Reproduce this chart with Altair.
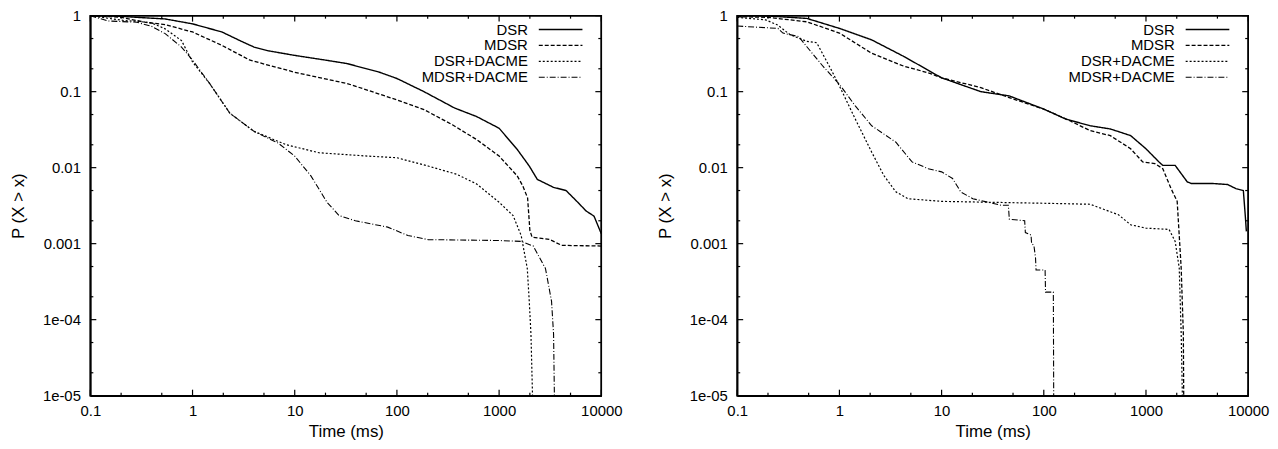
import math
import altair as alt
import pandas as pd

series = ["DSR", "MDSR", "DSR+DACME", "MDSR+DACME"]
dash_styles = [[1, 0], [4, 2], [2, 2], [6, 2, 1, 2]]
line_widths = [1.4, 1.1, 1.1, 1.1]

x_major = [0.1, 1, 10, 100, 1000, 10000]
x_labels = ["0.1", "1", "10", "100", "1000", "10000"]
x_minor = [0.2, 0.5, 2, 5, 20, 50, 200, 500, 2000, 5000]
y_major = [1e-5, 1e-4, 1e-3, 1e-2, 1e-1, 1]
y_labels = ["1e-05", "1e-04", "0.001", "0.01", "0.1", "1"]
y_minor = [2e-5, 5e-5, 2e-4, 5e-4, 2e-3, 5e-3, 2e-2, 5e-2, 0.2, 0.5]

x_title = "Time (ms)"
y_title = "P (X > x)"

# ---------------- left panel ----------------
L_dsr_x = [0.1, 0.2, 0.285, 0.54, 1, 1.94, 3.0, 4.0, 5.5, 10, 20, 32.6, 67.6, 100, 184, 366,
           603, 1000, 1503, 1973, 2366, 3412, 4520, 5890, 7080, 8490, 10000]
L_dsr_y = [1.0, 0.98, 0.95, 0.905, 0.78, 0.61, 0.46, 0.386, 0.345, 0.30, 0.26, 0.234, 0.18,
           0.149, 0.10, 0.061, 0.047, 0.033, 0.0174, 0.0105, 0.0070, 0.0055, 0.0050, 0.0035,
           0.0027, 0.0023, 0.00135]
L_mdsr_x = [0.1, 0.2, 0.342, 0.54, 1, 1.94, 3.66, 10, 32.6, 100, 184, 349, 603, 1000, 1503,
            1700, 1900, 2000, 2100, 3100, 4090, 10000]
L_mdsr_y = [1.0, 0.95, 0.82, 0.76, 0.61, 0.406, 0.259, 0.18, 0.128, 0.078, 0.058, 0.0367,
            0.0234, 0.0142, 0.0078, 0.0058, 0.004, 0.0015, 0.00122, 0.00114, 0.00095, 0.00093]
L_dd_x = [0.1, 0.217, 0.3, 0.4, 0.54, 0.78, 1, 1.47, 2.32, 4.0, 8.3, 17.3, 51.5, 100, 202,
          383, 603, 1000, 1371, 1644, 1887, 1973, 2050, 2123]
L_dd_y = [1.0, 0.86, 0.84, 0.80, 0.67, 0.47, 0.246, 0.128, 0.052, 0.030, 0.020, 0.0157,
          0.0142, 0.0135, 0.0105, 0.0082, 0.0061, 0.0035, 0.00234, 0.00128, 0.00047,
          0.000174, 0.000064, 0.00001]
L_md_x = [0.1, 0.15, 0.285, 0.4, 0.54, 0.78, 1, 1.47, 2.32, 4.0, 6.9, 10, 14.4, 20.7, 27.2,
          39.2, 81.3, 128, 202, 1000, 1644, 2160, 2844, 3260, 3412, 3475]
L_md_y = [1.0, 0.85, 0.82, 0.72, 0.58, 0.386, 0.26, 0.128, 0.052, 0.030, 0.021, 0.0142,
          0.0078, 0.0035, 0.00234, 0.0020, 0.00165, 0.00128, 0.00113, 0.00110, 0.00107,
          0.00093, 0.00047, 0.000174, 0.000064, 0.00001]

# ---------------- right panel ----------------
R_dsr_x = [0.1, 0.2, 0.48, 1, 2.07, 4.28, 10, 24.2, 45.8, 100, 164, 284, 448, 708, 1000,
           1340, 1460, 1930, 2535, 2770, 4380, 6300, 7570, 8970, 9400, 9600]
R_dsr_y = [1.0, 0.99, 0.92, 0.68, 0.48, 0.29, 0.152, 0.10, 0.088, 0.059, 0.0436, 0.0356,
           0.0323, 0.0264, 0.0177, 0.0119, 0.0107, 0.0107, 0.0065, 0.0062, 0.0062, 0.0060,
           0.0053, 0.0050, 0.0022, 0.00145]
R_mdsr_x = [0.1, 0.2, 0.48, 1, 2.07, 4.28, 7.4, 10, 24.2, 45.8, 100, 180, 284, 448, 708, 929,
            1222, 1460, 1760, 2020, 2210, 2320, 2340]
R_mdsr_y = [0.97, 0.95, 0.83, 0.59, 0.32, 0.216, 0.177, 0.152, 0.113, 0.0835, 0.059, 0.0414,
            0.0307, 0.0264, 0.0177, 0.0119, 0.0113, 0.0097, 0.0053, 0.0036, 0.00048,
            0.000066, 0.00001]
R_dd_x = [0.1, 0.19, 0.25, 0.33, 0.48, 0.60, 0.83, 1, 1.43, 2.07, 2.72, 3.57, 4.69, 10, 100,
          284, 538, 708, 1000, 1683, 1930, 2115, 2210, 2270]
R_dd_y = [0.95, 0.88, 0.75, 0.56, 0.46, 0.44, 0.195, 0.119, 0.0436, 0.016, 0.0079, 0.0048,
          0.0039, 0.0036, 0.0034, 0.0033, 0.0024, 0.00177, 0.0016, 0.00154, 0.00107,
          0.00048, 0.000066, 0.00001]
R_md_x = [0.1, 0.25, 0.28, 0.4, 0.48, 0.69, 1, 1.43, 2.07, 3.57, 5.14, 7.4, 10, 12.8, 15.4,
          20.2, 38.2, 45, 46, 65, 66, 75, 76, 80, 83, 84, 103, 104, 124, 125]
R_md_y = [0.73, 0.68, 0.59, 0.53, 0.39, 0.216, 0.125, 0.065, 0.0356, 0.0216, 0.0119, 0.0097,
          0.0088, 0.0072, 0.0048, 0.0039, 0.0032, 0.0032, 0.0021, 0.0020, 0.0014, 0.0013,
          0.0010, 0.00095, 0.00065, 0.00045, 0.00045, 0.00023, 0.00023, 0.00001]

W, H = 515, 383
FONT = "Liberation Sans"


def label_expr(vals, labs):
    parts = []
    for v, nxt, lab in zip(vals[:-1], vals[1:], labs[:-1]):
        parts.append(f"datum.value < {math.sqrt(v * nxt)!r} ? '{lab}' : ")
    return "".join(parts) + f"'{labs[-1]}'"


xscale = alt.Scale(type="log", domain=[0.1, 10000])
yscale = alt.Scale(type="log", domain=[1e-5, 1])
dash_scale = alt.Scale(domain=series, range=dash_styles)
width_scale = alt.Scale(domain=series, range=line_widths)
x_axis = alt.Axis(values=x_major, labelExpr=label_expr(x_major, x_labels),
                  domain=True, domainColor="black", domainWidth=1.5)
y_axis = alt.Axis(values=y_major, labelExpr=label_expr(y_major, y_labels),
                  domain=True, domainColor="black", domainWidth=1.5)


def X():
    return alt.X("x:Q", scale=xscale, title=x_title, axis=x_axis)


def Y():
    return alt.Y("y:Q", scale=yscale, title=y_title, axis=y_axis)


def lines_df(pairs):
    rows = []
    for name, (xs, ys) in zip(series, pairs):
        for i, (xv, yv) in enumerate(zip(xs, ys)):
            rows.append({"series": name, "i": i, "x": xv, "y": yv})
    return pd.DataFrame(rows)


def tick_layers():
    layers = []
    for vals, size in ((x_major, 6), (x_minor, 3)):
        d = pd.DataFrame({"x": vals})
        for y0, y1 in ((H, H - size), (0, size)):
            layers.append(alt.Chart(d).mark_rule(color="black", strokeWidth=1.2).encode(
                x=X(), y=alt.value(y0), y2=alt.value(y1)))
    for vals, size in ((y_major, 6), (y_minor, 3)):
        d = pd.DataFrame({"y": vals})
        for x0, x1 in ((0, size), (W, W - size)):
            layers.append(alt.Chart(d).mark_rule(color="black", strokeWidth=1.2).encode(
                y=Y(), x=alt.value(x0), x2=alt.value(x1)))
    return layers


def legend_layers():
    layers = []
    for k, name in enumerate(series):
        d = pd.DataFrame({"series": [name]})
        ly = 14 + 16 * k
        layers.append(alt.Chart(d).mark_text(
            align="right", baseline="middle", font=FONT, fontSize=15, color="black").encode(
            x=alt.value(441), y=alt.value(ly), text="series:N"))
        layers.append(alt.Chart(d).mark_rule(color="black").encode(
            x=alt.value(452), x2=alt.value(496), y=alt.value(ly),
            strokeDash=alt.StrokeDash("series:N", scale=dash_scale, legend=None),
            strokeWidth=alt.StrokeWidth("series:N", scale=width_scale, legend=None)))
    return layers


def frame_layer():
    d = pd.DataFrame({"k": [0]})
    return alt.Chart(d).mark_rect(fill="transparent", stroke="black", strokeWidth=1.5).encode(
        x=alt.value(0), x2=alt.value(W), y=alt.value(0), y2=alt.value(H))


def panel(pairs):
    df = lines_df(pairs)
    lines = alt.Chart(df).mark_line(color="black", clip=True).encode(
        x=X(), y=Y(),
        strokeDash=alt.StrokeDash("series:N", scale=dash_scale, legend=None),
        strokeWidth=alt.StrokeWidth("series:N", scale=width_scale, legend=None),
        detail="series:N",
        order="i:Q",
    )
    return alt.layer(lines, *tick_layers(), frame_layer(), *legend_layers()).properties(
        width=W, height=H)


left = panel([(L_dsr_x, L_dsr_y), (L_mdsr_x, L_mdsr_y), (L_dd_x, L_dd_y), (L_md_x, L_md_y)])
right = panel([(R_dsr_x, R_dsr_y), (R_mdsr_x, R_mdsr_y), (R_dd_x, R_dd_y), (R_md_x, R_md_y)])

chart = alt.hconcat(left, right, spacing=32).properties(
    padding={"left": 0, "top": -2, "right": 0, "bottom": 0}
).configure_view(stroke="black", strokeWidth=1.5).configure_axis(
    ticks=False, grid=False, labelFont=FONT, titleFont=FONT,
    labelFontSize=15, titleFontSize=17, titleFontWeight="normal", labelColor="black",
    titleColor="black", labelPadding=10, labelFlush=False, labelOverlap=False,
).configure_axisY(titlePadding=15).configure_axisX(titlePadding=5, labelPadding=8)

chart.save("out.html", embed_options={"renderer": "svg", "actions": False})
